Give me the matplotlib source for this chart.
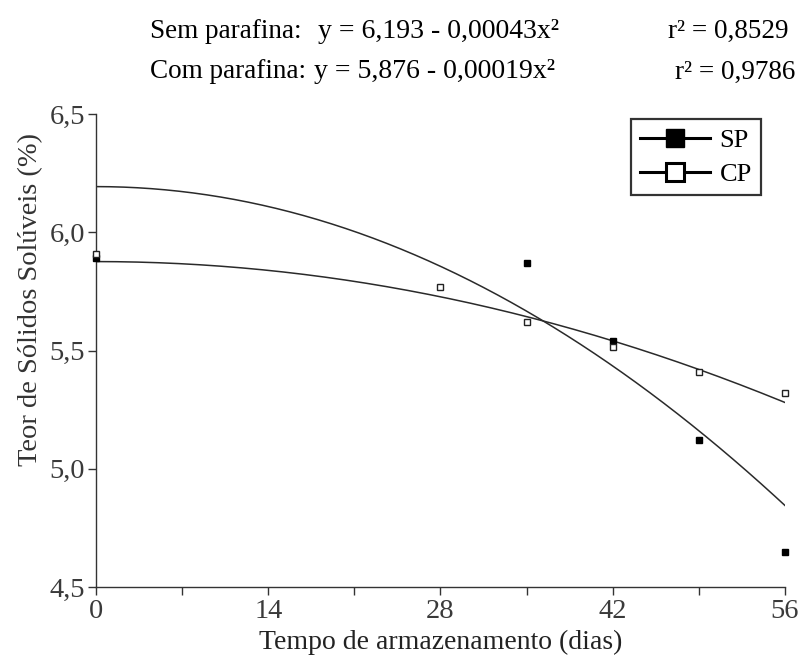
import numpy as np
import matplotlib
matplotlib.use("Agg")
import matplotlib.pyplot as plt
from matplotlib.lines import Line2D
from matplotlib.ticker import FuncFormatter, MultipleLocator

plt.rcParams['font.family'] = ['Liberation Serif', 'DejaVu Serif']

# Observed data
dias_sp = [0, 35, 42, 49, 56]
sp = [5.89, 5.87, 5.54, 5.12, 4.65]
dias_cp = [0, 28, 35, 42, 49, 56]
cp = [5.91, 5.77, 5.62, 5.515, 5.41, 5.32]

# Fitted regression coefficients (y = a - b x^2)
sp_a, sp_b = 6.193, 0.00043
cp_a, cp_b = 5.876, 0.00019
sp_r2 = "0,8529"
cp_r2 = "0,9786"

xticks = [0, 14, 28, 42, 56]
yticks = [4.5, 5.0, 5.5, 6.0, 6.5]

fig = plt.figure(figsize=(8.03, 6.66), dpi=100)
ax = fig.add_axes([96/803, 79/666, 689/803, 473/666])

xs = np.linspace(0, 56, 200)
ax.plot(xs, sp_a - sp_b * xs**2, color='#2a2a2a', lw=1.1)
ax.plot(xs, cp_a - cp_b * xs**2, color='#2a2a2a', lw=1.1)
ax.plot(dias_sp, sp, ls='none', marker='s', ms=4.5, mfc='black', mec='black', clip_on=False, zorder=5)
ax.plot(dias_cp, cp, ls='none', marker='s', ms=4.5, mfc='white', mec='#222222', mew=1.0, clip_on=False, zorder=6)

ax.set_xlim(0, 56)
ax.set_ylim(4.5, 6.5)
ax.set_xticks(xticks)
ax.xaxis.set_minor_locator(MultipleLocator(7))
ax.set_yticks(yticks)
ax.yaxis.set_major_formatter(FuncFormatter(lambda v, p: f"{v:.1f}".replace('.', ',')))
for s in ['top', 'right']:
    ax.spines[s].set_visible(False)
for s in ['left', 'bottom']:
    ax.spines[s].set_linewidth(1.0)
    ax.spines[s].set_color('#333333')
ax.tick_params(axis='both', which='both', direction='out', length=6, width=1.0, color='#333333',
               labelsize=20.5, labelcolor='#3a3a3a')
ax.tick_params(axis='x', pad=3)
ax.tick_params(axis='y', pad=2)

ax.set_xlabel("Tempo de armazenamento (dias)", fontsize=20, color='#222222', labelpad=4)
ax.set_ylabel("Teor de Sólidos Solúveis (%)", fontsize=20.5, color='#333333')
ax.yaxis.set_label_coords(-(96 - 43) / 689, (587 - 300) / 473)

handles = [
    Line2D([], [], color='black', lw=2.2, marker='s', ms=13, mfc='black', mec='black'),
    Line2D([], [], color='black', lw=2.2, marker='s', ms=13, mfc='white', mec='black', mew=2.2),
]
leg = ax.legend(handles, ['SP', 'CP'], loc='upper right', bbox_to_anchor=(0.965, 0.989),
                fontsize=19, frameon=True, fancybox=False, handlelength=2.65,
                handletextpad=0.35, borderpad=0.35, labelspacing=0.4, borderaxespad=0)
leg.get_frame().set_edgecolor('black')
leg.get_frame().set_linewidth(1.6)

tfs = 19.5
fig.text(150/803, 1 - 31/666, "Sem parafina:", fontsize=tfs, va='center', ha='left')
fig.text(318/803, 1 - 31/666, "y = 6,193 - 0,00043x²", fontsize=tfs + 0.5, va='center', ha='left')
fig.text(668/803, 1 - 31/666, f"r² = {sp_r2}", fontsize=tfs, va='center', ha='left')
fig.text(150/803, 1 - 72/666, "Com parafina:", fontsize=tfs, va='center', ha='left')
fig.text(314/803, 1 - 72/666, "y = 5,876 - 0,00019x²", fontsize=tfs + 0.5, va='center', ha='left')
fig.text(675/803, 1 - 72/666, f"r² = {cp_r2}", fontsize=tfs, va='center', ha='left')

fig.savefig("out.png", dpi=100)
